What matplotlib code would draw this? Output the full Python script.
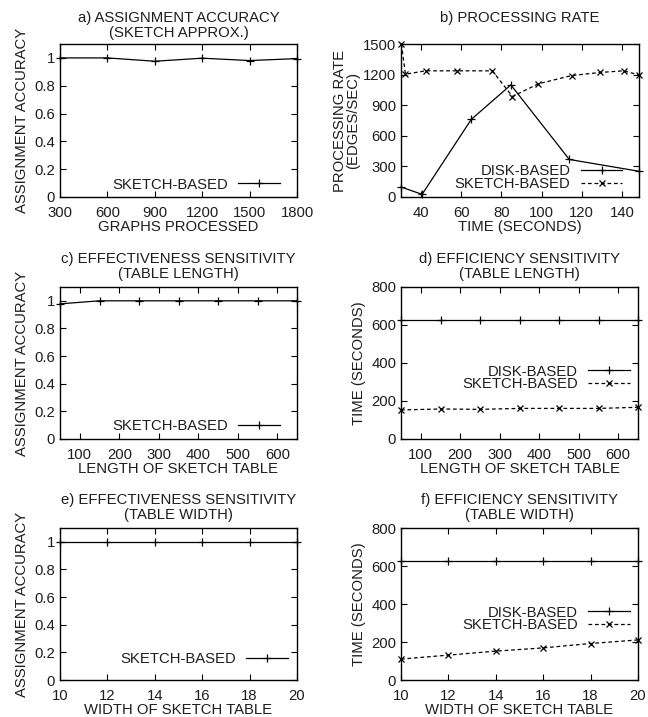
import matplotlib
matplotlib.use("Agg")
import matplotlib.pyplot as plt
from matplotlib.ticker import FuncFormatter

plt.rcParams['font.family'] = ['Liberation Sans', 'DejaVu Sans']
FS = 10.7
plt.rcParams['font.size'] = FS
TXT = '#1e1e1e'

# ---- data ----
a_x = [300, 600, 900, 1200, 1500, 1800]
a_sketch = [1.0, 1.0, 0.976, 0.998, 0.981, 0.995]

b_disk_t = [30, 40.5, 65, 84.7, 113.8, 148.3]
b_disk = [98, 26, 761, 1099, 368, 253]
b_sketch_t = [30.2, 32.2, 42.2, 58, 75.5, 85.5, 98.3, 115, 129.2, 140.8, 148.3]
b_sketch = [1500, 1204, 1237, 1237, 1237, 985, 1109, 1191, 1221, 1237, 1198]

c_len = [50, 150, 250, 350, 450, 550, 650]
c_sketch = [0.978, 1.0, 1.0, 1.0, 1.0, 1.0, 1.0]

d_len = [50, 150, 250, 350, 450, 550, 650]
d_disk = [626, 626, 626, 626, 626, 626, 626]
d_sketch = [153, 158, 156, 161, 161, 161, 167]

e_wid = [10, 12, 14, 16, 18, 20]
e_sketch = [1.0, 1.0, 1.0, 1.0, 1.0, 1.0]

f_wid = [10, 12, 14, 16, 18, 20]
f_disk = [624, 624, 624, 624, 624, 624]
f_sketch = [110, 131, 152, 169, 192, 211]

acc_ticks = [0, 0.2, 0.4, 0.6, 0.8, 1]
a_xticks = [300, 600, 900, 1200, 1500, 1800]
b_xticks = [40, 60, 80, 100, 120, 140]
b_yticks = [0, 300, 600, 900, 1200, 1500]
len_ticks = [100, 200, 300, 400, 500, 600]
time_ticks = [0, 200, 400, 600, 800]
wid_ticks = [10, 12, 14, 16, 18, 20]

W, H = 648, 717
fig = plt.figure(figsize=(W / 100, H / 100), dpi=100)


def make_ax(l, r, t, b):
    return fig.add_axes([l / W, (H - b) / H, (r - l) / W, (b - t) / H])


def style(ax):
    for s in ax.spines.values():
        s.set_linewidth(1.0)
        s.set_color('black')
    ax.tick_params(direction='in', length=4, width=0.8, top=True, right=True,
                   colors='black', labelcolor=TXT, labelsize=FS)
    ax.tick_params(axis='x', pad=6.5)
    ax.tick_params(axis='y', pad=3.5)
    ax.yaxis.set_major_formatter(FuncFormatter(lambda v, p: '%g' % v))
    ax.xaxis.set_major_formatter(FuncFormatter(lambda v, p: '%g' % v))


def title(ax, lines, ytop):
    bb = ax.get_position()
    xc = bb.x0 + bb.width / 2
    for i, ln in enumerate(lines):
        fig.text(xc, 1 - (ytop + 15 * i) / H, ln, ha='center', va='center',
                 color=TXT, fontsize=FS)


def legend(ax, xr, yb):
    lg = ax.legend(loc='lower right', bbox_to_anchor=(xr, yb), frameon=False,
                   markerfirst=False, handlelength=2.8, handletextpad=0.7,
                   borderpad=0, labelspacing=-0.1, borderaxespad=0, numpoints=1,
                   fontsize=FS)
    for t in lg.get_texts():
        t.set_color(TXT)


solid = dict(color='black', lw=0.9, marker='+', ms=5.5, mew=0.9, clip_on=False)
dashed = dict(color='black', lw=0.9, ls=(0, (3, 2.2)), marker='x', ms=4.5, mew=0.9,
              clip_on=False)

# ---- a ----
ax = make_ax(60, 297, 44, 197)
ax.plot(a_x, a_sketch, label='SKETCH-BASED', **solid)
ax.set_xlim(300, 1800)
ax.set_ylim(0, 1.1)
ax.set_xticks(a_xticks)
ax.set_yticks(acc_ticks)
style(ax)
ax.set_xlabel('GRAPHS PROCESSED', color=TXT, labelpad=0)
ax.set_ylabel('ASSIGNMENT ACCURACY', color=TXT, labelpad=4)
title(ax, ['a) ASSIGNMENT ACCURACY', '(SKETCH APPROX.)'], 18)
legend(ax, 0.928, 0.035)

# ---- b ----
ax = make_ax(401, 639, 44, 197)
ax.plot(b_disk_t, b_disk, label='DISK-BASED', **solid)
ax.plot(b_sketch_t, b_sketch, label='SKETCH-BASED', **dashed)
ax.set_xlim(30, 148.5)
ax.set_ylim(0, 1500)
ax.set_xticks(b_xticks)
ax.set_yticks(b_yticks)
style(ax)
ax.set_xlabel('TIME (SECONDS)', color=TXT, labelpad=0)
ax.set_ylabel('PROCESSING RATE\n(EDGES/SEC)', color=TXT, labelpad=2, linespacing=0.9)
title(ax, ['b) PROCESSING RATE'], 18)
legend(ax, 0.93, 0.04)

# ---- c ----
ax = make_ax(60, 297, 287, 439)
ax.plot(c_len, c_sketch, label='SKETCH-BASED', **solid)
ax.set_xlim(50, 650)
ax.set_ylim(0, 1.1)
ax.set_xticks(len_ticks)
ax.set_yticks(acc_ticks)
style(ax)
ax.set_xlabel('LENGTH OF SKETCH TABLE', color=TXT, labelpad=0)
ax.set_ylabel('ASSIGNMENT ACCURACY', color=TXT, labelpad=4)
title(ax, ['c) EFFECTIVENESS SENSITIVITY', '(TABLE LENGTH)'], 259)
legend(ax, 0.928, 0.04)

# ---- d ----
ax = make_ax(401, 638, 287, 439)
ax.plot(d_len, d_disk, label='DISK-BASED', **solid)
ax.plot(d_len, d_sketch, label='SKETCH-BASED', **dashed)
ax.set_xlim(50, 650)
ax.set_ylim(0, 800)
ax.set_xticks(len_ticks)
ax.set_yticks(time_ticks)
style(ax)
ax.set_xlabel('LENGTH OF SKETCH TABLE', color=TXT, labelpad=0)
ax.set_ylabel('TIME (SECONDS)', color=TXT, labelpad=4)
title(ax, ['d) EFFICIENCY SENSITIVITY', '(TABLE LENGTH)'], 259)
legend(ax, 0.965, 0.315)

# ---- e ----
ax = make_ax(60, 297, 528, 680)
ax.plot(e_wid, e_sketch, label='SKETCH-BASED', **solid)
ax.set_xlim(10, 20)
ax.set_ylim(0, 1.1)
ax.set_xticks(wid_ticks)
ax.set_yticks(acc_ticks)
style(ax)
ax.set_xlabel('WIDTH OF SKETCH TABLE', color=TXT, labelpad=0)
ax.set_ylabel('ASSIGNMENT ACCURACY', color=TXT, labelpad=4)
title(ax, ['e) EFFECTIVENESS SENSITIVITY', '(TABLE WIDTH)'], 500)
legend(ax, 0.962, 0.09)

# ---- f ----
ax = make_ax(401, 638, 528, 680)
ax.plot(f_wid, f_disk, label='DISK-BASED', **solid)
ax.plot(f_wid, f_sketch, label='SKETCH-BASED', **dashed)
ax.set_xlim(10, 20)
ax.set_ylim(0, 800)
ax.set_xticks(wid_ticks)
ax.set_yticks(time_ticks)
style(ax)
ax.set_xlabel('WIDTH OF SKETCH TABLE', color=TXT, labelpad=0)
ax.set_ylabel('TIME (SECONDS)', color=TXT, labelpad=4)
title(ax, ['f) EFFICIENCY SENSITIVITY', '(TABLE WIDTH)'], 500)
legend(ax, 0.965, 0.315)

fig.savefig('out.png', dpi=100)
